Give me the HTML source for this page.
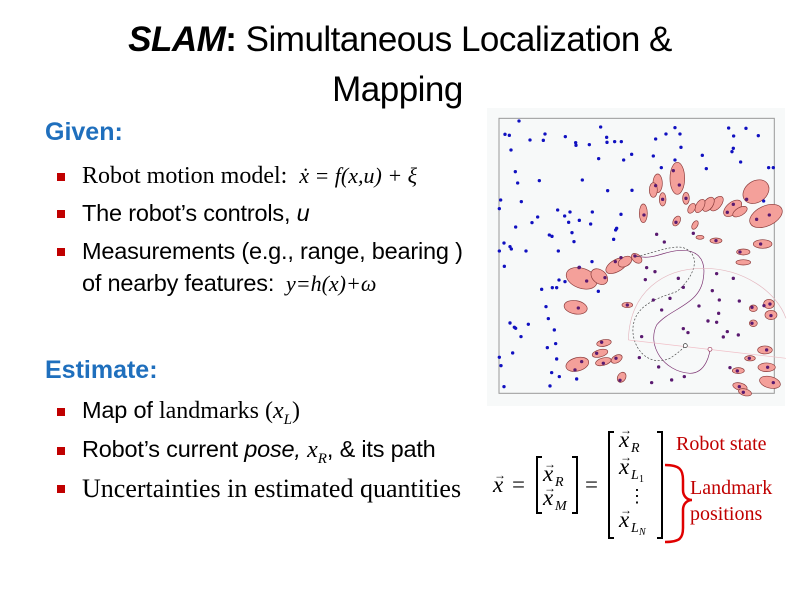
<!DOCTYPE html>
<html><head><meta charset="utf-8"><style>
body{margin:0;width:800px;height:600px;background:#fff;position:relative;overflow:hidden;font-family:"Liberation Sans",sans-serif;}
.t{position:absolute;white-space:nowrap;}
.h{color:#1f6fbd;font-weight:bold;font-size:25px;}
.b{font-size:23.5px;color:#000;letter-spacing:-0.2px;}
.sq{position:absolute;width:8px;height:8px;background:#c00000;}
.ser{font-family:"Liberation Serif",serif;letter-spacing:0;}
</style></head><body>
<div class="t" style="left:0;width:800px;text-align:center;top:20px;font-size:35px;letter-spacing:-0.5px;"><i><b>SLAM</b></i><b>:</b> Simultaneous Localization &amp;</div>
<div class="t" style="left:0;width:795px;text-align:center;top:70px;font-size:35px;letter-spacing:-0.5px;">Mapping</div>
<div class="t h" style="left:45px;top:118px;">Given:</div>
<div class="sq" style="left:57px;top:173px"></div><div class="t b" style="left:82px;top:162px;"><span class="ser" style="font-size:24px">Robot motion model:</span> <i class="ser" style="font-size:22px">&nbsp;ẋ = f(x,u) + ξ</i></div>
<div class="sq" style="left:57px;top:210px"></div><div class="t b" style="left:82px;top:200px;">The robot’s controls, <i>u</i></div>
<div class="sq" style="left:57px;top:248px"></div><div class="t b" style="left:82px;top:238px;">Measurements (e.g., range, bearing )</div>
<div class="t b" style="left:82px;top:270px;">of nearby features: <i class="ser" style="font-size:22px">&nbsp;y=h(x)+ω</i></div>
<div class="t h" style="left:45px;top:356px;">Estimate:</div>
<div class="sq" style="left:57px;top:408px"></div><div class="t b" style="left:82px;top:397px;">Map of <span class="ser" style="font-size:24px">landmarks (<i>x<sub style="font-size:15px">L</sub></i>)</span></div>
<div class="sq" style="left:57px;top:447px"></div><div class="t b" style="left:82px;top:436px;">Robot’s current <i>pose, </i><i class="ser" style="font-size:24px">x<sub style="font-size:15px">R</sub></i>, &amp; its path</div>
<div class="sq" style="left:57px;top:485px"></div><div class="t b ser" style="left:82px;top:474px;font-size:26px;">Uncertainties in estimated quantities</div>

<svg style="position:absolute;left:0;top:0" width="800" height="600">
<rect x="487" y="108" width="298" height="298" fill="#f7f9f9"/>
<g transform="translate(490,105) scale(0.3333)">
<rect x="27" y="40" width="826" height="825" fill="none" stroke="#999" stroke-width="3"/>
<g fill="#f4a09a" stroke="#8a3a3a" stroke-width="2">
<ellipse cx="562" cy="220" rx="22" ry="48"/><ellipse cx="503" cy="235" rx="14" ry="28"/><ellipse cx="490" cy="255" rx="12" ry="22"/>
<ellipse cx="518" cy="283" rx="10" ry="20"/><ellipse cx="588" cy="280" rx="10" ry="18"/><ellipse cx="460" cy="325" rx="12" ry="28"/>
<ellipse cx="798" cy="260" rx="42" ry="32" transform="rotate(-35 798 260)"/><ellipse cx="828" cy="333" rx="52" ry="30" transform="rotate(-25 828 333)"/>
<ellipse cx="728" cy="310" rx="32" ry="18" transform="rotate(-40 728 310)"/><ellipse cx="680" cy="296" rx="26" ry="14" transform="rotate(-50 680 296)"/>
<ellipse cx="655" cy="298" rx="24" ry="14" transform="rotate(-55 655 298)"/><ellipse cx="630" cy="303" rx="22" ry="12" transform="rotate(-60 630 303)"/>
<ellipse cx="605" cy="310" rx="16" ry="10" transform="rotate(-60 605 310)"/><ellipse cx="750" cy="320" rx="24" ry="12" transform="rotate(-30 750 320)"/>
<ellipse cx="560" cy="348" rx="10" ry="16" transform="rotate(30 560 348)"/><ellipse cx="818" cy="417" rx="28" ry="13"/>
<ellipse cx="760" cy="441" rx="20" ry="9"/><ellipse cx="760" cy="472" rx="22" ry="8"/>
<ellipse cx="275" cy="520" rx="48" ry="30" transform="rotate(20 275 520)"/><ellipse cx="328" cy="515" rx="28" ry="20" transform="rotate(40 328 515)"/>
<ellipse cx="380" cy="482" rx="36" ry="18" transform="rotate(-30 380 482)"/><ellipse cx="405" cy="470" rx="22" ry="14" transform="rotate(-30 405 470)"/>
<ellipse cx="440" cy="460" rx="18" ry="12" transform="rotate(40 440 460)"/><ellipse cx="257" cy="607" rx="35" ry="20" transform="rotate(10 257 607)"/>
<ellipse cx="262" cy="778" rx="35" ry="20" transform="rotate(-15 262 778)"/><ellipse cx="342" cy="714" rx="22" ry="10" transform="rotate(-10 342 714)"/>
<ellipse cx="330" cy="745" rx="24" ry="11" transform="rotate(-15 330 745)"/><ellipse cx="340" cy="770" rx="24" ry="11" transform="rotate(-15 340 770)"/>
<ellipse cx="380" cy="762" rx="18" ry="11" transform="rotate(-30 380 762)"/><ellipse cx="395" cy="817" rx="12" ry="16" transform="rotate(30 395 817)"/>
<ellipse cx="837" cy="597" rx="16" ry="14"/><ellipse cx="843" cy="630" rx="18" ry="14"/><ellipse cx="790" cy="610" rx="12" ry="10"/>
<ellipse cx="790" cy="655" rx="12" ry="10"/><ellipse cx="825" cy="735" rx="22" ry="12"/><ellipse cx="830" cy="787" rx="26" ry="13"/>
<ellipse cx="840" cy="832" rx="32" ry="17" transform="rotate(15 840 832)"/><ellipse cx="750" cy="845" rx="22" ry="11" transform="rotate(15 750 845)"/>
<ellipse cx="765" cy="862" rx="20" ry="10" transform="rotate(15 765 862)"/><ellipse cx="745" cy="797" rx="18" ry="9"/>
<ellipse cx="780" cy="760" rx="16" ry="8"/><ellipse cx="412" cy="600" rx="16" ry="8"/><ellipse cx="678" cy="407" rx="18" ry="8"/>
<ellipse cx="615" cy="360" rx="8" ry="14" transform="rotate(30 615 360)"/><ellipse cx="630" cy="397" rx="12" ry="6"/>
</g>
<g fill="none" stroke-width="2">
<path d="M430 450 C480 470 520 440 560 437 C620 430 650 460 640 520 C630 600 540 610 500 660 C470 720 520 800 600 805 C650 805 660 740 660 733" stroke="#7a3070"/>
<path d="M440 455 C500 440 550 420 580 428 C640 450 610 520 560 560 C500 580 440 600 430 660 C420 720 470 790 540 760 C570 740 585 725 585 722" stroke="#444" stroke-dasharray="6 5"/>
<path d="M415 705 C420 560 520 490 640 490 C760 490 860 560 888 640" stroke="#e4b8c0"/>
<path d="M415 705 L888 760" stroke="#f0c0c8"/>
</g>
<g fill="#1010c0">
<circle cx="87" cy="48" r="5"/><circle cx="45" cy="88" r="5"/><circle cx="58" cy="91" r="5"/><circle cx="120" cy="105" r="5"/><circle cx="160" cy="106" r="5"/><circle cx="165" cy="87" r="5"/><circle cx="226" cy="95" r="5"/><circle cx="257" cy="113" r="5"/><circle cx="258" cy="121" r="5"/><circle cx="298" cy="119" r="5"/><circle cx="332" cy="66" r="5"/><circle cx="350" cy="97" r="5"/><circle cx="351" cy="112" r="5"/><circle cx="374" cy="110" r="5"/><circle cx="394" cy="110" r="5"/><circle cx="497" cy="102" r="5"/><circle cx="528" cy="87" r="5"/><circle cx="555" cy="68" r="5"/><circle cx="570" cy="87" r="5"/><circle cx="573" cy="127" r="5"/><circle cx="716" cy="69" r="5"/><circle cx="768" cy="70" r="5"/><circle cx="731" cy="93" r="5"/><circle cx="805" cy="92" r="5"/><circle cx="730" cy="130" r="5"/><circle cx="726" cy="140" r="5"/><circle cx="637" cy="151" r="5"/><circle cx="752" cy="171" r="5"/><circle cx="649" cy="191" r="5"/><circle cx="836" cy="188" r="5"/><circle cx="850" cy="188" r="5"/><circle cx="821" cy="288" r="5"/><circle cx="63" cy="135" r="5"/><circle cx="326" cy="161" r="5"/><circle cx="401" cy="165" r="5"/><circle cx="425" cy="148" r="5"/><circle cx="490" cy="153" r="5"/><circle cx="555" cy="165" r="5"/><circle cx="514" cy="188" r="5"/><circle cx="76" cy="200" r="5"/><circle cx="83" cy="234" r="5"/><circle cx="148" cy="227" r="5"/><circle cx="277" cy="225" r="5"/><circle cx="353" cy="257" r="5"/><circle cx="426" cy="256" r="5"/><circle cx="32" cy="285" r="5"/><circle cx="94" cy="290" r="5"/><circle cx="28" cy="311" r="5"/><circle cx="203" cy="315" r="5"/><circle cx="224" cy="333" r="5"/><circle cx="240" cy="321" r="5"/><circle cx="236" cy="352" r="5"/><circle cx="268" cy="346" r="5"/><circle cx="307" cy="321" r="5"/><circle cx="302" cy="357" r="5"/><circle cx="393" cy="328" r="5"/><circle cx="143" cy="336" r="5"/><circle cx="126" cy="353" r="5"/><circle cx="77" cy="366" r="5"/><circle cx="380" cy="370" r="5"/><circle cx="377" cy="375" r="5"/><circle cx="246" cy="383" r="5"/><circle cx="178" cy="390" r="5"/><circle cx="186" cy="394" r="5"/><circle cx="371" cy="403" r="5"/><circle cx="42" cy="414" r="5"/><circle cx="60" cy="425" r="5"/><circle cx="64" cy="432" r="5"/><circle cx="28" cy="438" r="5"/><circle cx="108" cy="438" r="5"/><circle cx="205" cy="438" r="5"/><circle cx="252" cy="410" r="5"/><circle cx="43" cy="484" r="5"/><circle cx="306" cy="470" r="5"/><circle cx="268" cy="487" r="5"/><circle cx="207" cy="525" r="5"/><circle cx="225" cy="530" r="5"/><circle cx="187" cy="548" r="5"/><circle cx="200" cy="548" r="5"/><circle cx="155" cy="553" r="5"/><circle cx="325" cy="559" r="5"/><circle cx="168" cy="605" r="5"/><circle cx="175" cy="641" r="5"/><circle cx="60" cy="654" r="5"/><circle cx="73" cy="667" r="5"/><circle cx="77" cy="670" r="5"/><circle cx="115" cy="658" r="5"/><circle cx="193" cy="675" r="5"/><circle cx="93" cy="695" r="5"/><circle cx="197" cy="716" r="5"/><circle cx="172" cy="728" r="5"/><circle cx="68" cy="744" r="5"/><circle cx="28" cy="757" r="5"/><circle cx="200" cy="762" r="5"/><circle cx="33" cy="782" r="5"/><circle cx="185" cy="803" r="5"/><circle cx="208" cy="815" r="5"/><circle cx="260" cy="822" r="5"/><circle cx="42" cy="845" r="5"/><circle cx="180" cy="843" r="5"/>
</g>
<g fill="#5a1a70">
<circle cx="550" cy="197" r="5"/><circle cx="568" cy="240" r="5"/><circle cx="497" cy="242" r="5"/><circle cx="518" cy="283" r="5"/><circle cx="588" cy="280" r="5"/><circle cx="462" cy="330" r="5"/><circle cx="770" cy="283" r="5"/><circle cx="838" cy="330" r="5"/><circle cx="800" cy="343" r="5"/><circle cx="730" cy="298" r="5"/><circle cx="712" cy="322" r="5"/><circle cx="558" cy="352" r="5"/><circle cx="500" cy="388" r="5"/><circle cx="523" cy="411" r="5"/><circle cx="610" cy="385" r="5"/><circle cx="678" cy="407" r="5"/><circle cx="812" cy="417" r="5"/><circle cx="750" cy="441" r="5"/><circle cx="435" cy="453" r="5"/><circle cx="470" cy="488" r="5"/><circle cx="495" cy="500" r="5"/><circle cx="466" cy="524" r="5"/><circle cx="565" cy="520" r="5"/><circle cx="580" cy="547" r="5"/><circle cx="680" cy="506" r="5"/><circle cx="730" cy="520" r="5"/><circle cx="667" cy="557" r="5"/><circle cx="540" cy="580" r="5"/><circle cx="490" cy="585" r="5"/><circle cx="515" cy="615" r="5"/><circle cx="627" cy="603" r="5"/><circle cx="688" cy="585" r="5"/><circle cx="686" cy="625" r="5"/><circle cx="654" cy="648" r="5"/><circle cx="680" cy="652" r="5"/><circle cx="748" cy="588" r="5"/><circle cx="580" cy="671" r="5"/><circle cx="594" cy="683" r="5"/><circle cx="712" cy="680" r="5"/><circle cx="700" cy="696" r="5"/><circle cx="745" cy="690" r="5"/><circle cx="455" cy="695" r="5"/><circle cx="448" cy="758" r="5"/><circle cx="506" cy="786" r="5"/><circle cx="545" cy="825" r="5"/><circle cx="485" cy="833" r="5"/><circle cx="583" cy="815" r="5"/><circle cx="267" cy="488" r="5"/><circle cx="290" cy="528" r="5"/><circle cx="345" cy="518" r="5"/><circle cx="376" cy="470" r="5"/><circle cx="393" cy="458" r="5"/><circle cx="265" cy="609" r="5"/><circle cx="412" cy="600" r="5"/><circle cx="335" cy="712" r="5"/><circle cx="320" cy="745" r="5"/><circle cx="340" cy="775" r="5"/><circle cx="378" cy="760" r="5"/><circle cx="390" cy="826" r="5"/><circle cx="255" cy="795" r="5"/><circle cx="275" cy="770" r="5"/><circle cx="840" cy="597" r="5"/><circle cx="822" cy="602" r="5"/><circle cx="843" cy="632" r="5"/><circle cx="786" cy="607" r="5"/><circle cx="786" cy="655" r="5"/><circle cx="830" cy="735" r="5"/><circle cx="833" cy="787" r="5"/><circle cx="850" cy="833" r="5"/><circle cx="748" cy="845" r="5"/><circle cx="760" cy="862" r="5"/><circle cx="742" cy="798" r="5"/><circle cx="778" cy="760" r="5"/><circle cx="720" cy="788" r="5"/>
</g>
<circle cx="586" cy="722" r="6" fill="#fff" stroke="#333" stroke-width="2"/><circle cx="660" cy="733" r="6" fill="#fff" stroke="#a04060" stroke-width="2"/>
</g>
<!-- matrices -->
<g fill="none" stroke="#000" stroke-width="2">
<path d="M542 457 h-5 v56 h5"/><path d="M572 457 h5 v56 h-5"/>
<path d="M614 432 h-5 v106 h5"/><path d="M657 432 h5 v106 h-5"/>
</g>
<path d="M665 465 C680 465 683 470 683 480 L683 490 C683 496 687 500 692 500 C687 500 683 504 683 510 L683 528 C683 538 680 542 665 542" fill="none" stroke="#e00000" stroke-width="2.5"/>
<g font-family="Liberation Serif,serif" font-style="italic" font-size="23">
<text x="493" y="492">x</text><text x="494" y="479" font-style="normal" font-size="12">→</text>
<text x="512" y="492" font-style="normal">=</text>
<text x="543" y="481">x</text><text x="544" y="468" font-style="normal" font-size="12">→</text><text x="555" y="486" font-size="14">R</text>
<text x="543" y="505">x</text><text x="544" y="492" font-style="normal" font-size="12">→</text><text x="555" y="510" font-size="14">M</text>
<text x="585" y="492" font-style="normal">=</text>
<text x="619" y="447">x</text><text x="620" y="434" font-style="normal" font-size="12">→</text><text x="631" y="452" font-size="14">R</text>
<text x="619" y="474">x</text><text x="620" y="461" font-style="normal" font-size="12">→</text><text x="631" y="479" font-size="14">L</text><text x="639" y="482" font-size="10" font-style="normal">1</text>
<text x="628" y="502" font-style="normal" font-size="18">⋮</text>
<text x="619" y="527">x</text><text x="620" y="514" font-style="normal" font-size="12">→</text><text x="631" y="532" font-size="14">L</text><text x="639" y="535" font-size="10">N</text>
</g>
<g font-family="Liberation Serif,serif" font-size="20" fill="#c00000">
<text x="676" y="450">Robot state</text>
<text x="690" y="494">Landmark</text>
<text x="690" y="520">positions</text>
</g>
</svg>
</body></html>
